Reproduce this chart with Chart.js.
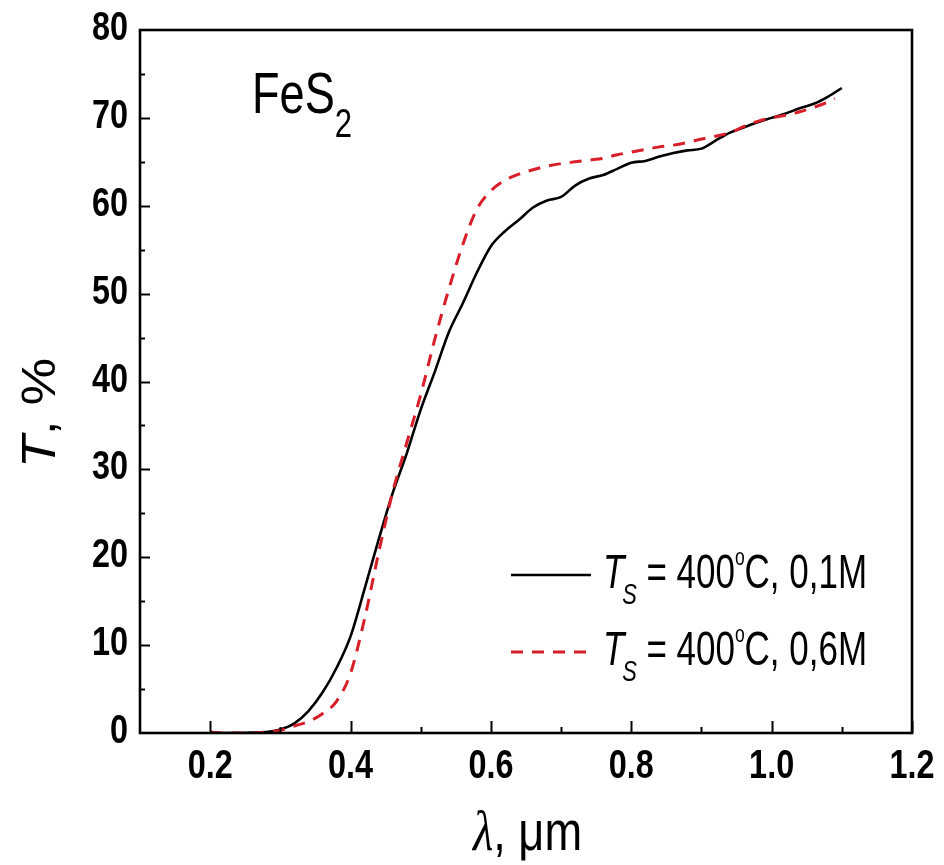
<!DOCTYPE html>
<html>
<head>
<meta charset="utf-8">
<script src="https://cdn.jsdelivr.net/npm/chart.js@4.4.1/dist/chart.umd.min.js"></script>
<style>
  html, body { margin: 0; padding: 0; background: #ffffff; }
  #wrap { width: 944px; height: 865px; }
</style>
</head>
<body>
<div id="wrap"><canvas id="c" width="944" height="865"></canvas></div>
<script>
// ---- data ----
const lambdaBlack = [0.20,0.22,0.24,0.26,0.28,0.30,0.32,0.34,0.36,0.38,0.40,0.42,0.44,0.46,0.48,0.50,0.52,0.54,0.56,0.58,0.60,0.62,0.64,0.66,0.68,0.70,0.72,0.74,0.76,0.78,0.80,0.82,0.84,0.86,0.88,0.90,0.92,0.94,0.96,0.98,1.00,1.02,1.04,1.06,1.08,1.10];
const transBlack  = [0.0,0.0,0.0,0.05,0.1,0.4,1.1,2.5,4.6,7.4,11.0,16.4,22.0,27.3,31.8,36.8,41.1,45.6,48.9,52.4,55.4,57.1,58.4,59.8,60.6,61.0,62.3,63.1,63.5,64.2,64.9,65.1,65.6,66.0,66.3,66.5,67.4,68.3,68.9,69.5,70.0,70.5,71.1,71.6,72.4,73.4];
const lambdaRed   = [0.20,0.22,0.24,0.26,0.28,0.30,0.32,0.34,0.36,0.38,0.40,0.42,0.44,0.46,0.48,0.50,0.52,0.54,0.56,0.58,0.60,0.62,0.64,0.66,0.68,0.70,0.72,0.74,0.76,0.78,0.80,0.82,0.84,0.86,0.88,0.90,0.92,0.94,0.96,0.98,1.00,1.02,1.04,1.06,1.08,1.09];
const transRed    = [0.1,0.0,0.0,0.0,0.1,0.3,0.8,1.3,2.2,3.6,6.8,13.0,20.5,27.4,33.0,38.5,44.8,50.5,55.6,59.6,61.7,62.9,63.6,64.1,64.5,64.8,65.0,65.2,65.4,65.8,66.1,66.4,66.7,66.9,67.2,67.6,67.9,68.3,69.0,69.6,70.0,70.3,70.7,71.2,71.8,72.2];
const xTickValues = [0.2,0.4,0.6,0.8,1.0,1.2];
const yTickValues = [0,10,20,30,40,50,60,70,80];
const seriesLabels = ["T_S = 400°C, 0,1M", "T_S = 400°C, 0,6M"];

const RED = '#d81e28';
const SANS = '"Liberation Sans", Arial, sans-serif';
const SERIF = '"Liberation Serif", "DejaVu Serif", serif';

function toPoints(xs, ys) { return xs.map((x, i) => ({ x: x, y: ys[i] })); }

// draw a row of text runs, horizontally scaled to fit a target width
function drawRuns(ctx, runs, x, baseline, targetWidth, rotate) {
  ctx.save();
  let natural = 0;
  runs.forEach(r => { ctx.font = r.font; natural += ctx.measureText(r.t).width + (r.dx || 0); });
  const sx = targetWidth / natural;
  ctx.translate(x, baseline);
  if (rotate) ctx.rotate(rotate);
  ctx.scale(sx, 1);
  ctx.textAlign = 'left';
  ctx.textBaseline = 'alphabetic';
  ctx.fillStyle = '#000';
  let cx = 0;
  runs.forEach(r => {
    ctx.font = r.font;
    cx += (r.dx || 0);
    ctx.fillText(r.t, cx, r.dy || 0);
    cx += ctx.measureText(r.t).width;
  });
  ctx.restore();
}

const decorPlugin = {
  id: 'decor',
  afterDraw(chart) {
    const ctx = chart.ctx;
    const a = chart.chartArea;
    const xs = chart.scales.x, ys = chart.scales.y;
    ctx.save();
    // frame
    ctx.strokeStyle = '#000';
    ctx.lineWidth = 2.6;
    ctx.strokeRect(a.left, a.top, a.right - a.left, a.bottom - a.top);
    // inward ticks, x
    ctx.lineWidth = 2;
    for (let v = 0.2; v < 1.2 + 1e-9; v += 0.1) {
      const px = Math.round(xs.getPixelForValue(v)) + 0.5;
      const major = Math.abs(Math.round(v * 10) % 2) === 0;
      const len = major ? 12 : 6;
      ctx.beginPath(); ctx.moveTo(px, a.bottom); ctx.lineTo(px, a.bottom - len); ctx.stroke();
    }
    // inward ticks, y
    for (let v = 5; v < 80; v += 5) {
      const py = Math.round(ys.getPixelForValue(v)) + 0.5;
      const len = (v % 10 === 0) ? 10 : 5;
      ctx.beginPath(); ctx.moveTo(a.left, py); ctx.lineTo(a.left + len, py); ctx.stroke();
    }
    // tick labels
    const tickFont = 'bold 41px ' + SANS;
    xs.ticks.forEach(t => {
      const s = t.value.toFixed(1);
      ctx.font = tickFont;
      const w = ctx.measureText(s).width * 0.79;
      drawRuns(ctx, [{ t: s, font: tickFont }], xs.getPixelForValue(t.value) - w / 2, 778, w);
    });
    ys.ticks.forEach(t => {
      const s = String(t.value);
      ctx.font = tickFont;
      const w = ctx.measureText(s).width * 0.79;
      drawRuns(ctx, [{ t: s, font: tickFont }], 128 - w, ys.getPixelForValue(t.value) + 10, w);
    });
    // axis titles
    drawRuns(ctx, [
      { t: 'λ', font: 'italic 58px ' + SERIF },
      { t: ', μm', font: '56px ' + SANS }
    ], 473, 850, 109);
    drawRuns(ctx, [
      { t: 'T', font: 'italic 48px ' + SANS },
      { t: ', %', font: '48px ' + SANS }
    ], 55, 468, 110, -Math.PI / 2);
    // compound label
    drawRuns(ctx, [
      { t: 'FeS', font: '58px ' + SANS },
      { t: '2', font: '40px ' + SANS, dy: 24 }
    ], 252, 113, 100);
    // legend
    const legendRows = [
      { y: 575, base: 588 },
      { y: 652, base: 665 }
    ];
    chart.data.datasets.forEach((ds, i) => {
      const row = legendRows[i];
      ctx.save();
      ctx.strokeStyle = ds.borderColor;
      ctx.lineWidth = ds.borderWidth;
      ctx.setLineDash(ds.borderDash || []);
      ctx.beginPath(); ctx.moveTo(511, row.y); ctx.lineTo(591, row.y); ctx.stroke();
      ctx.restore();
      const tail = seriesLabels[i].split('= ')[1];
      const num = tail.split('°')[0];
      const rest = tail.split('°')[1];
      drawRuns(ctx, [
        { t: 'T', font: 'italic 48px ' + SANS },
        { t: 'S', font: 'italic 30px ' + SANS, dy: 16, dx: -3 },
        { t: ' = ' + num, font: '48px ' + SANS },
        { t: 'o', font: '24px ' + SANS, dy: -23 },
        { t: rest, font: '48px ' + SANS }
      ], 603, row.base, 264);
    });
    ctx.restore();
  }
};

new Chart(document.getElementById('c'), {
  type: 'line',
  data: {
    datasets: [
      {
        label: seriesLabels[0],
        data: toPoints(lambdaBlack, transBlack),
        borderColor: '#000',
        borderWidth: 2.6,
        pointRadius: 0,
        tension: 0.3,
        cubicInterpolationMode: 'monotone',
        fill: false,
        order: 1
      },
      {
        label: seriesLabels[1],
        data: toPoints(lambdaRed, transRed),
        borderColor: RED,
        borderWidth: 3,
        borderDash: [12, 9],
        pointRadius: 0,
        tension: 0.3,
        cubicInterpolationMode: 'monotone',
        fill: false,
        order: 0
      }
    ]
  },
  options: {
    responsive: false,
    animation: false,
    devicePixelRatio: 1,
    layout: { padding: { left: 0, top: 30, right: 32, bottom: 0 } },
    plugins: { legend: { display: false }, tooltip: { enabled: false }, title: { display: false } },
    scales: {
      x: {
        type: 'linear',
        min: 0.1, max: 1.2,
        afterBuildTicks: s => { s.ticks = xTickValues.map(v => ({ value: v })); },
        afterFit: s => { s.height = 132; },
        ticks: { display: false },
        grid: { display: false, drawTicks: false },
        border: { display: false }
      },
      y: {
        type: 'linear',
        min: 0, max: 80,
        afterBuildTicks: s => { s.ticks = yTickValues.map(v => ({ value: v })); },
        afterFit: s => { s.width = 140; },
        ticks: { display: false },
        grid: { display: false, drawTicks: false },
        border: { display: false }
      }
    }
  },
  plugins: [decorPlugin]
});
</script>
</body>
</html>
